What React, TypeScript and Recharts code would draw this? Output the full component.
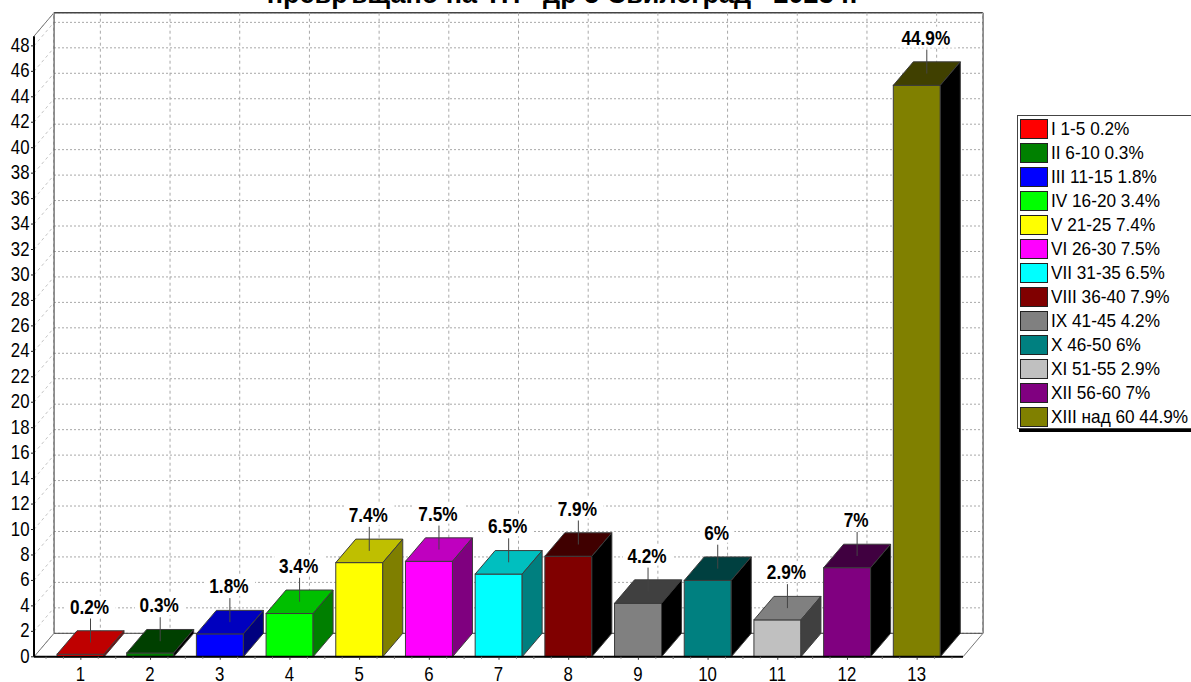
import React from "react";
import { BarChart, Bar, XAxis, YAxis, CartesianGrid, Legend, Cell } from "recharts";

const categories = ["1", "2", "3", "4", "5", "6", "7", "8", "9", "10", "11", "12", "13"];
const values = [0.2, 0.3, 1.8, 3.4, 7.4, 7.5, 6.5, 7.9, 4.2, 6, 2.9, 7, 44.9];
const legendNames = [
  "I 1-5", "II 6-10", "III 11-15", "IV 16-20", "V 21-25", "VI 26-30", "VII 31-35",
  "VIII 36-40", "IX 41-45", "X 46-50", "XI 51-55", "XII 56-60", "XIII над 60",
];
const colors = [
  "#ff0000", "#008000", "#0000ff", "#00ff00", "#ffff00", "#ff00ff", "#00ffff",
  "#800000", "#808080", "#008080", "#c0c0c0", "#800080", "#808000",
];
const yTicks = [0, 2, 4, 6, 8, 10, 12, 14, 16, 18, 20, 22, 24, 26, 28, 30, 32, 34, 36, 38, 40, 42, 44, 46, 48];
const title = "превръщано на ТП   др 5 Свилеград   2023 г.";

const W = 1191, H = 682;
const LEFT = 34, RIGHT = 963, TOP = 36.2, BOTTOM = 656.8;
const PAD_L = 12, PAD_R = 11;
const DX = 20, DY = 23.5;
const FONT = '"Liberation Sans", Arial, sans-serif';

const rows = categories.map((c, i) => ({ name: c, value: values[i] }));

function shade(hex: string, amount: number) {
  const p = (s: number) => Math.max(0, parseInt(hex.slice(s, s + 2), 16) - amount);
  return `rgb(${p(1)},${p(3)},${p(5)})`;
}

function NarrowText({ x, y, anchor, size, bold, children }: any) {
  return (
    <text
      transform={`translate(${x},${y}) scale(0.82,1)`}
      textAnchor={anchor}
      fontFamily={FONT}
      fontWeight={bold ? 700 : 400}
      fontSize={size}
      fill="#000"
    >
      {children}
    </text>
  );
}

function Bar3D(props: any) {
  const { x, y, width, height, fill, value } = props;
  const r = x + width;
  const b = y + height;
  const cx = x + width / 2 + DX / 2;
  const cy = y - DY / 2;
  const stroke = "#3c3c3c";
  const label = `${value}%`;
  const lw = label.length * 8.6 + 16;
  return (
    <g>
      <rect x={x} y={y} width={width} height={height} fill={fill} stroke={stroke} strokeWidth={1} />
      <polygon
        points={`${x},${y} ${x + DX},${y - DY} ${r + DX},${y - DY} ${r},${y}`}
        fill={shade(fill, 0x40)}
        stroke={stroke}
        strokeWidth={1}
      />
      <polygon
        points={`${r},${y} ${r + DX},${y - DY} ${r + DX},${b - DY} ${r},${b}`}
        fill={shade(fill, 0x80)}
        stroke={stroke}
        strokeWidth={1}
      />
      <rect x={cx - lw / 2} y={cy - 47} width={lw} height={21} fill="#fff" />
      <line x1={cx} y1={cy} x2={cx} y2={cy - 24} stroke="#444" strokeWidth={1} />
      <NarrowText x={cx - 1} y={cy - 29} anchor="middle" size={21} bold>
        {label}
      </NarrowText>
    </g>
  );
}

function GridH(props: any) {
  const { x1, y1, x2, index } = props;
  return (
    <g key={`h${index}`}>
      <line x1={x1} y1={y1} x2={x1 + DX} y2={y1 - DY} stroke="#c4c4c4" strokeWidth={1} strokeDasharray="3 3" />
      <line x1={x1 + DX} y1={y1 - DY} x2={x2 + DX} y2={y1 - DY} stroke="#a8a8a8" strokeWidth={1} strokeDasharray="2 2" />
    </g>
  );
}

function Frame() {
  const bl = LEFT + DX, br = RIGHT + DX, bt = TOP - DY, bb = BOTTOM - DY;
  return (
    <g>
      <line x1={bl} y1={bt} x2={br} y2={bt} stroke="#444" strokeWidth={1.5} />
      <line x1={bl} y1={bb} x2={br} y2={bb} stroke="#444" strokeWidth={1} />
      <line x1={bl} y1={bt} x2={bl} y2={bb} stroke="#666" strokeWidth={1.5} />
      <line x1={br} y1={bt} x2={br} y2={bb} stroke="#666" strokeWidth={1.5} />
      <line x1={LEFT} y1={TOP} x2={bl} y2={bt} stroke="#777" strokeWidth={1} />
      <line x1={LEFT} y1={BOTTOM} x2={bl} y2={bb} stroke="#777" strokeWidth={1} />
      <line x1={RIGHT} y1={BOTTOM} x2={br} y2={bb} stroke="#777" strokeWidth={1} />
    </g>
  );
}

function GridV(props: any) {
  const { x1, index } = props;
  return (
    <g key={`v${index}`}>
      <line
        x1={x1 + DX - 0.5}
        y1={TOP - DY}
        x2={x1 + DX - 0.5}
        y2={BOTTOM - DY}
        stroke="#a8a8a8"
        strokeWidth={1}
        strokeDasharray="3 3"
      />
      {index === 0 ? <Frame /> : null}
    </g>
  );
}

function XTick(props: any) {
  const { x, payload } = props;
  const pitch = (RIGHT - LEFT - PAD_L - PAD_R) / categories.length;
  return (
    <g>
      <line x1={x} y1={BOTTOM} x2={x} y2={BOTTOM + 3} stroke="#333" />
      {[-0.5, -0.25, 0.25, 0.5].map((f) => (
        <line key={f} x1={x + f * pitch} y1={BOTTOM} x2={x + f * pitch} y2={BOTTOM + 2} stroke="#777" />
      ))}
      <NarrowText x={x - 0.5} y={681} anchor="middle" size={20.5}>
        {payload.value}
      </NarrowText>
    </g>
  );
}

function YTick(props: any) {
  const { y, payload } = props;
  return (
    <g>
      <line x1={LEFT - 3} y1={y} x2={LEFT} y2={y} stroke="#222" />
      <NarrowText x={29.5} y={y + 6} anchor="end" size={20.5}>
        {payload.value}
      </NarrowText>
    </g>
  );
}

function LegendBox() {
  return (
    <div
      style={{
        position: "absolute",
        left: 1017,
        top: 115,
        width: 173,
        height: 312,
        border: "1px solid #444",
        boxShadow: "2px 3px 0 #000",
        background: "#fff",
        boxSizing: "content-box",
      }}
    >
      {legendNames.map((n, i) => (
        <div
          key={n}
          style={{ position: "absolute", left: 2, top: 1.5 + i * 24, height: 22, display: "flex", alignItems: "center", whiteSpace: "nowrap" }}
        >
          <span
            style={{
              display: "inline-block",
              width: 26,
              height: 18,
              background: colors[i],
              border: "1.5px solid #222",
              marginRight: 3,
            }}
          />
          <span
            style={{
              fontFamily: FONT,
              fontSize: 19,
              color: "#000",
              transform: "scaleX(0.905)",
              transformOrigin: "left center",
              display: "inline-block",
            }}
          >
            {`${n} ${values[i]}%`}
          </span>
        </div>
      ))}
    </div>
  );
}

export default function App() {
  return (
    <div style={{ position: "absolute", left: 0, top: 0, width: W, height: H, overflow: "hidden", background: "#fff" }}>
      <div
        style={{
          position: "absolute",
          left: 212,
          width: 700,
          top: -21,
          textAlign: "center",
          whiteSpace: "pre",
          fontFamily: FONT,
          fontWeight: 700,
          fontSize: 27,
          lineHeight: "30px",
          color: "#000",
        }}
      >
        {title}
      </div>
      <BarChart
        width={W}
        height={H}
        data={rows}
        margin={{ top: TOP, left: 0, right: W - RIGHT, bottom: 0 }}
        barSize={47}
        style={{ position: "absolute", left: 0, top: 0 }}
      >
        <CartesianGrid
          horizontal={(p: any) => <GridH {...p} />}
          vertical={(p: any) => <GridV {...p} />}
        />
        <XAxis
          dataKey="name"
          height={H - BOTTOM}
          padding={{ left: PAD_L, right: PAD_R }}
          tick={<XTick />}
          tickLine={false}
          axisLine={{ stroke: "#000", strokeWidth: 2 }}
          interval={0}
        />
        <YAxis
          width={LEFT}
          type="number"
          domain={[0, 48.76]}
          ticks={yTicks}
          tick={<YTick />}
          tickLine={false}
          interval={0}
          axisLine={{ stroke: "#000", strokeWidth: 2 }}
        />
        <Legend content={<LegendBox />} wrapperStyle={{ position: "static", width: 0, height: 0 }} />
        <Bar dataKey="value" isAnimationActive={false} shape={<Bar3D />}>
          {rows.map((r, i) => (
            <Cell key={r.name} fill={colors[i]} />
          ))}
        </Bar>
      </BarChart>
    </div>
  );
}
